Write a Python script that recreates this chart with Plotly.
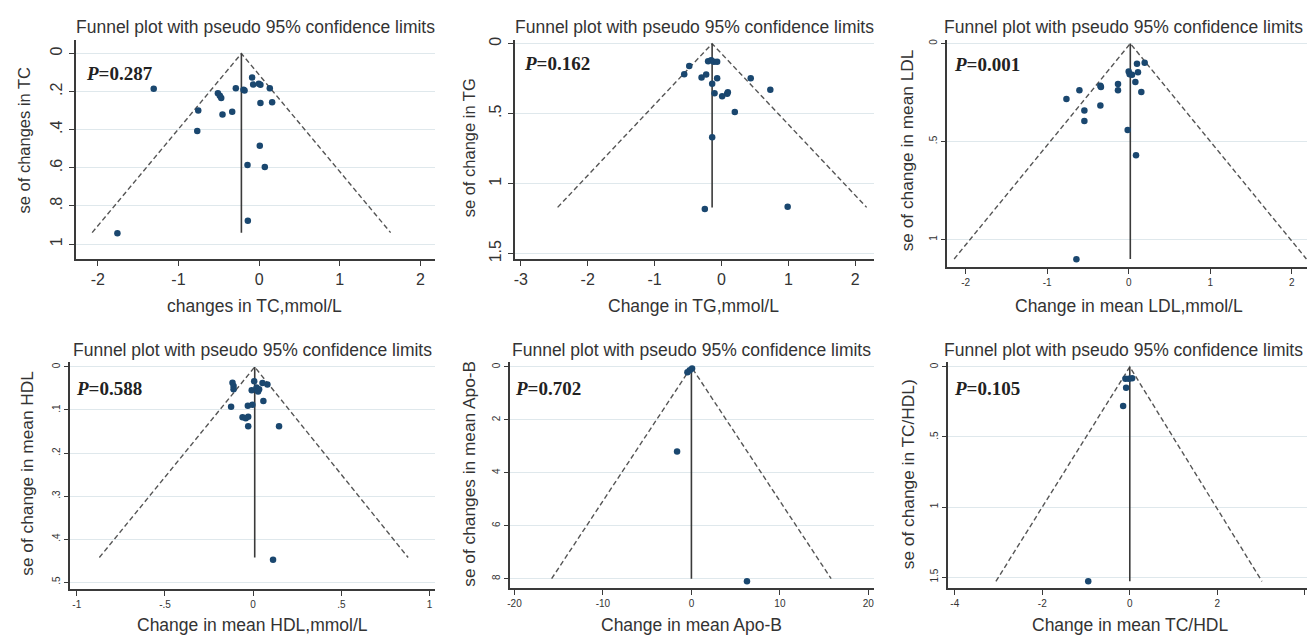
import plotly.graph_objects as go

W, H = 1307, 636

# ---------------- data ----------------
tc_change = [-1.307, -1.757, -0.755, -0.767, -0.511, -0.487, -0.470, -0.454, -0.334, -0.289,
             -0.194, -0.181, -0.087, -0.074, -0.004, 0.016, 0.132, 0.016, 0.161, 0.008,
             -0.144, 0.070, -0.140]
tc_se = [0.185, 0.943, 0.299, 0.407, 0.208, 0.221, 0.234, 0.320, 0.306, 0.182,
         0.190, 0.194, 0.126, 0.163, 0.159, 0.164, 0.182, 0.260, 0.256, 0.484,
         0.585, 0.595, 0.877]

tg_change = [-0.200, -0.154, -0.114, -0.065, -0.482, -0.557, -0.298, -0.229, -0.139, -0.065,
             -0.104, 0.010, 0.085, 0.095, 0.437, 0.730, 0.199, -0.139, -0.249, 0.989]
tg_se = [0.125, 0.118, 0.129, 0.129, 0.160, 0.219, 0.242, 0.221, 0.287, 0.247,
         0.355, 0.376, 0.358, 0.348, 0.247, 0.329, 0.489, 0.668, 1.181, 1.165]

ldl_change = [0.102, 0.196, 0.114, 0.000, 0.012, 0.041, 0.082, -0.131, -0.131, 0.155,
              -0.347, -0.340, -0.604, -0.763, -0.347, -0.543, -0.543, -0.012, 0.090, -0.641]
ldl_se = [0.103, 0.098, 0.147, 0.143, 0.157, 0.160, 0.196, 0.207, 0.239, 0.248,
          0.216, 0.222, 0.239, 0.283, 0.317, 0.342, 0.396, 0.442, 0.570, 1.101]

hdl_change = [-0.117, -0.111, -0.111, -0.125, 0.006, -0.008, 0.019, 0.034, 0.028, 0.053,
              0.081, 0.058, -0.030, -0.004, -0.060, -0.042, -0.028, -0.028, 0.147, 0.113]
hdl_se = [0.0368, 0.044, 0.052, 0.0926, 0.033, 0.054, 0.048, 0.052, 0.057, 0.0375,
          0.041, 0.079, 0.090, 0.088, 0.117, 0.119, 0.116, 0.138, 0.138, 0.448]

apob_change = [0.075, -0.19, -0.45, -1.62, 6.28]
apob_se = [0.06, 0.125, 0.2, 3.19, 8.1]

tchdl_change = [-0.10, -0.02, 0.053, -0.084, -0.152, -0.95]
tchdl_se = [0.085, 0.085, 0.08, 0.148, 0.278, 1.53]

# pooled estimate, funnel base (se) and pseudo 95% limits at the base
funnel_pooled = [-0.22, -0.14, 0.02, 0.009, 0.0, 0.0]
funnel_se_max = [0.94, 1.17, 1.10, 0.443, 8.0, 1.53]
funnel_lo = [-2.07, -2.45, -2.14, -0.872, -15.8, -3.06]
funnel_hi = [1.63, 2.17, 2.18, 0.879, 15.79, 3.02]

p_values = ["0.287", "0.162", "0.001", "0.588", "0.702", "0.105"]

x_titles = ["changes in TC,mmol/L", "Change in TG,mmol/L", "Change in mean LDL,mmol/L",
            "Change in mean HDL,mmol/L", "Change in mean Apo-B", "Change in mean TC/HDL"]
y_titles = ["se of changes in TC", "se of change in TG", "se of change in mean LDL",
            "se of change in mean HDL", "se of changes in mean Apo-B", "se of change in TC/HDL)"]
panel_title = "Funnel plot with pseudo 95% confidence limits"

x_tickvals = [[-2, -1, 0, 1, 2], [-3, -2, -1, 0, 1, 2], [-2, -1, 0, 1, 2],
              [-1, -0.5, 0, 0.5, 1], [-20, -10, 0, 10, 20], [-4, -2, 0, 2, 4]]
x_ticktext = [["-2", "-1", "0", "1", "2"], ["-3", "-2", "-1", "0", "1", "2"],
              ["-2", "-1", "0", "1", "2"], ["-1", "-.5", "0", ".5", "1"],
              ["-20", "-10", "0", "10", "20"], ["-4", "-2", "0", "2", "4"]]
y_tickvals = [[0, 0.2, 0.4, 0.6, 0.8, 1], [0, 0.5, 1, 1.5], [0, 0.5, 1],
              [0, 0.1, 0.2, 0.3, 0.4, 0.5], [0, 2, 4, 6, 8], [0, 0.5, 1, 1.5]]
y_ticktext = [["0", ".2", ".4", ".6", ".8", "1"], ["0", ".5", "1", "1.5"], ["0", ".5", "1"],
              ["0", ".1", ".2", ".3", ".4", ".5"], ["0", "2", "4", "6", "8"], ["0", ".5", "1", "1.5"]]

changes = [tc_change, tg_change, ldl_change, hdl_change, apob_change, tchdl_change]
ses = [tc_se, tg_se, ldl_se, hdl_se, apob_se, tchdl_se]

# ---------------- layout geometry (pixels) ----------------
# plot area [left, right, top, bottom]
boxes = [(72.7, 433, 36, 258), (512.7, 873, 36.7, 258), (946, 1307, 36, 265.7),
         (66.7, 433.3, 362, 591.3), (508.3, 873.3, 362, 590.7), (946.7, 1307, 362, 590.7)]
x_ranges = [(-2.276, 2.18), (-3.094, 2.28), (-2.23, 2.187),
            (-1.041, 1.033), (-20.49, 20.67), (-4.166, 4.05)]
y_ranges = [(1.079, -0.073), (1.54, -0.024), (1.14, -0.02),
            (0.5156, -0.0115), (8.36, -0.187), (1.579, -0.035)]
tick_font = [16, 16, 10, 10, 10, 10]
ytitle_font = [16.5, 16.5, 17.3, 17.3, 17.3, 17.3]
# (x, y, anchor) for the panel titles; right column kept inside the page
title_pos = [(253, 23, "center"), (693, 23, "center"), (1305, 23, "right"),
             (250, 349.7, "center"), (690, 349.7, "center"), (1305, 349.7, "right")]
xt_pos = [(252, 305), (692, 305), (1129, 305), (250, 628), (690, 628), (1130, 628)]
yt_pos = [(22, 137), (467, 145), (906, 148), (24, 474), (467, 475), (907, 475.5)]
p_pos = [(81, 70), (520, 60), (951, 61), (71, 388.7), (511, 388.7), (951, 388.7)]

SANS = "Liberation Sans, Arial, sans-serif"
SERIF = "Liberation Serif, Times New Roman, serif"
TXT = "#333333"
DOT = "#1a476f"

fig = go.Figure()
layout = dict(width=W, height=H, margin=dict(l=0, r=0, t=0, b=0),
              paper_bgcolor="white", plot_bgcolor="white", showlegend=False)


def px(x):
    return x / W


def py(y):
    return 1 - y / H


annotations = []
for i in range(6):
    sfx = "" if i == 0 else str(i + 1)
    xa, ya = "x" + sfx, "y" + sfx
    l, r, t, b = boxes[i]
    layout["xaxis" + sfx] = dict(
        domain=[px(l), px(r)], range=list(x_ranges[i]), anchor=ya,
        showgrid=False, zeroline=False, showline=True, linecolor="#3a3a3a", linewidth=1.6,
        ticks="outside", ticklen=5, tickwidth=1.2, tickcolor="#3a3a3a",
        tickvals=x_tickvals[i], ticktext=x_ticktext[i],
        tickfont=dict(family=SANS, size=tick_font[i], color=TXT))
    layout["yaxis" + sfx] = dict(
        domain=[py(b), py(t)], range=list(y_ranges[i]), anchor=xa,
        showgrid=True, gridcolor="#dfe8ec", gridwidth=1, zeroline=False,
        showline=True, linecolor="#3a3a3a", linewidth=1.6,
        ticks="outside", ticklen=5 if i < 2 else 4, tickwidth=1.2, tickcolor="#3a3a3a",
        tickvals=y_tickvals[i], ticktext=y_ticktext[i], tickangle=-90,
        tickfont=dict(family=SANS, size=tick_font[i], color=TXT))

    pooled, smax = funnel_pooled[i], funnel_se_max[i]
    # pseudo confidence limits
    fig.add_trace(go.Scatter(x=[funnel_lo[i], pooled, funnel_hi[i]], y=[smax, 0, smax],
                             mode="lines", xaxis=xa, yaxis=ya, hoverinfo="skip",
                             line=dict(color="#555555", width=1.4, dash="5px,3px")))
    # pooled estimate line
    fig.add_trace(go.Scatter(x=[pooled, pooled], y=[0, smax], mode="lines",
                             xaxis=xa, yaxis=ya, hoverinfo="skip",
                             line=dict(color="#3a3a3a", width=1.6)))
    # studies
    fig.add_trace(go.Scatter(x=changes[i], y=ses[i], mode="markers", xaxis=xa, yaxis=ya,
                             marker=dict(color=DOT, size=6.5, line=dict(width=0))))

    tx, ty, tanchor = title_pos[i]
    annotations.append(dict(text=panel_title, x=px(tx), y=py(ty),
                            xref="paper", yref="paper", xanchor=tanchor, yanchor="middle",
                            showarrow=False, font=dict(family=SANS, size=17.5, color=TXT)))
    annotations.append(dict(text=x_titles[i], x=px(xt_pos[i][0]), y=py(xt_pos[i][1]),
                            xref="paper", yref="paper", xanchor="center", yanchor="middle",
                            showarrow=False, font=dict(family=SANS, size=17.5, color=TXT)))
    annotations.append(dict(text=y_titles[i], x=px(yt_pos[i][0]), y=py(yt_pos[i][1]),
                            xref="paper", yref="paper", xanchor="center", yanchor="middle",
                            textangle=-90, showarrow=False,
                            font=dict(family=SANS, size=ytitle_font[i], color=TXT)))
    annotations.append(dict(text="<b><i>P</i>=" + p_values[i] + "</b>",
                            x=px(p_pos[i][0]), y=py(p_pos[i][1]),
                            xref="paper", yref="paper", xanchor="left", yanchor="middle",
                            showarrow=False, font=dict(family=SERIF, size=19, color="#222222")))

layout["annotations"] = annotations
fig.update_layout(**layout)
fig.write_html("out.html")
